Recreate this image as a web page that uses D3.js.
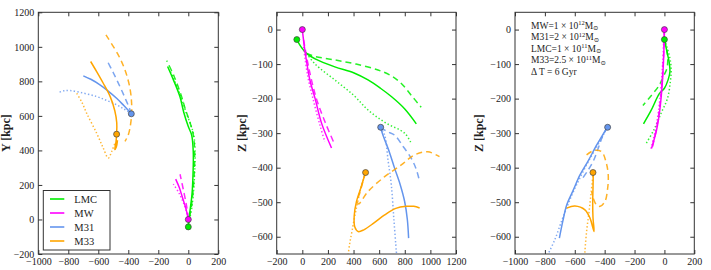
<!DOCTYPE html>
<html>
<head>
<meta charset="utf-8">
<script src="https://cdnjs.cloudflare.com/ajax/libs/d3/7.8.5/d3.min.js"></script>
<style>
  body { margin: 0; background: #fff; }
  svg { display: block; font-family: "Liberation Serif", "DejaVu Serif", serif; }
</style>
</head>
<body>
<div id="chart"></div>
<script>
// galaxies, in legend order
const galaxies = ["LMC", "MW", "M31", "M33"];
const colors = ["#00ee00", "#ff00ff", "#6495ed", "#ffa500"];

// present-day positions (kpc)
const nowX = [0, 0, -380, -478];
const nowY = [-43, 0, 612, 494];
const nowZ = [-29, 0, -283, -414];

// tracks: [solid, dashed, dotted]  --- panel 1 : X vs Y
const lmcXY = [
  [[0,-42],[2,-10],[11,48],[25,150],[31,250],[33,394],[22,490],[0,538],[-30,620],[-56,712],[-100,810],[-138,886]],
  [[0,-42],[5,0],[18,60],[35,200],[42,394],[33,490],[12,560],[-20,640],[-45,712],[-95,830],[-144,920]],
  [[0,-42],[8,0],[22,60],[38,200],[45,400],[36,490],[18,545],[-15,620],[-45,700],[-85,790],[-125,870]]
];
const mwXY = [
  [[0,0],[-15,60],[-40,130],[-60,185],[-84,234]],
  [[0,5],[-10,70],[-30,160],[-55,262]],
  [[0,10],[-25,80],[-60,150],[-100,205]]
];
const m31XY = [
  [[-378,612],[-430,660],[-478,702],[-540,748],[-589,780],[-650,812],[-700,832]],
  [[-378,612],[-400,660],[-430,720],[-456,770],[-500,850],[-544,924]],
  [[-378,612],[-430,640],[-478,664],[-545,690],[-611,712],[-700,732],[-789,747],[-830,745],[-867,735]]
];
const m33XY = [
  [[-651,915],[-610,855],[-567,789],[-520,710],[-490,630],[-477,560],[-478,494],[-482,450],[-490,405],[-480,420],[-472,460]],
  [[-549,1069],[-467,953],[-422,866],[-389,760],[-378,673],[-378,606],[-389,529],[-400,490],[-422,452]],
  [[-744,731],[-710,680],[-678,616],[-611,500],[-570,420],[-533,356],[-510,395],[-490,440]]
];

// panel 2 : Y vs Z
const lmcYZ = [
  [[-43,-29],[-10,-50],[33,-69],[100,-85],[254,-108],[400,-125],[513,-146],[610,-170],[695,-194],[800,-230],[890,-273]],
  [[33,-69],[100,-78],[254,-88],[420,-100],[591,-117],[700,-135],[773,-156],[850,-190],[928,-225]],
  [[33,-69],[100,-100],[254,-146],[400,-190],[513,-233],[650,-270],[799,-300],[851,-330]]
];
const mwYZ = [
  [[0,0],[20,-60],[59,-146],[100,-200],[150,-271],[228,-343]],
  [[10,-30],[50,-110],[110,-200],[180,-270],[254,-334]],
  [[10,-50],[40,-130],[90,-210],[140,-280],[176,-325]]
];
const m31YZ = [
  [[610,-283],[630,-306],[680,-355],[721,-402],[765,-450],[799,-498],[820,-550],[830,-604]],
  [[610,-283],[660,-295],[721,-306],[790,-340],[851,-373],[890,-405],[916,-440]],
  [[610,-283],[643,-306],[670,-380],[695,-450],[715,-550],[734,-642],[738,-660]]
];
const m33YZ = [
  [[493,-414],[460,-455],[423,-498],[405,-540],[410,-572],[436,-585],[480,-580],[560,-560],[643,-537],[730,-518],[812,-512],[870,-512],[916,-517]],
  [[493,-414],[455,-465],[430,-500],[440,-505],[513,-469],[643,-426],[773,-392],[876,-363],[980,-354],[1071,-368]],
  [[493,-414],[450,-470],[415,-530],[390,-580],[370,-620],[355,-660]]
];

// panel 3 : X vs Z
const lmcXZ = [
  [[0,-29],[15,-60],[32,-95],[37,-122],[25,-145],[0,-170],[-33,-185],[-90,-235],[-140,-273]],
  [[0,-29],[20,-70],[18,-110],[-8,-137],[-40,-165],[-86,-190],[-144,-220]],
  [[0,-29],[30,-70],[45,-110],[40,-150],[20,-200],[-20,-240],[-70,-290],[-125,-332]]
];
const mwXZ = [
  [[0,0],[-5,-80],[-15,-160],[-30,-230],[-52,-290],[-86,-344]],
  [[0,-5],[-8,-100],[-25,-200],[-50,-280],[-80,-340]],
  [[-3,-10],[-12,-100],[-30,-200],[-55,-280],[-90,-345]]
];
const m31XZ = [
  [[-382,-283],[-420,-310],[-454,-335],[-510,-380],[-565,-421],[-610,-465],[-654,-508],[-680,-555],[-703,-604]],
  [[-382,-283],[-410,-305],[-440,-340],[-475,-380],[-515,-410],[-555,-435]],
  [[-382,-283],[-440,-330],[-500,-375],[-560,-425],[-620,-480],[-680,-545],[-735,-610],[-790,-660]]
];
const m33XZ = [
  [[-476,-414],[-478,-460],[-480,-500],[-478,-545],[-471,-585],[-498,-546],[-532,-522],[-599,-511],[-654,-517]],
  [[-521,-363],[-470,-350],[-420,-354],[-390,-385],[-376,-421],[-380,-460],[-398,-498],[-430,-512],[-454,-508],[-475,-490],[-487,-469]],
  [[-476,-414],[-490,-470],[-505,-530],[-521,-585],[-532,-642],[-535,-660]]
];

// ticks
const ticksX1 = [-1000, -800, -600, -400, -200, 0, 200];
const ticksY1 = [-200, 0, 200, 400, 600, 800, 1000, 1200];
const ticksX2 = [-200, 0, 200, 400, 600, 800, 1000, 1200];
const ticksZ = [-600, -500, -400, -300, -200, -100, 0];

const massLines = [
  ["MW=1 \u00d7 10", "12", "M"],
  ["M31=2 \u00d7 10", "12", "M"],
  ["LMC=1 \u00d7 10", "11", "M"],
  ["M33=2.5 \u00d7 10", "11", "M"]
];

const W = 711, H = 270;
const plotTop = 12.3, plotBottom = 254;
const styles = [null, "6,4", "1.4,2.2"];
const opac = [1, 0.85, 0.8];

const svg = d3.select("#chart").append("svg")
  .attr("width", W).attr("height", H);

const panels = [
  { x0: 38.3, x1: 218.3, xd: [-1000, 200], yd: [-200, 1200], xt: ticksX1, yt: ticksY1,
    tracks: [lmcXY, mwXY, m31XY, m33XY], px: nowX, py: nowY, ylab: "Y [kpc]", ylx: 10 },
  { x0: 276.7, x1: 456, xd: [-200, 1200], yd: [-650, 50], xt: ticksX2, yt: ticksZ,
    tracks: [lmcYZ, mwYZ, m31YZ, m33YZ], px: nowY, py: nowZ, ylab: "Z [kpc]", ylx: 246 },
  { x0: 515, x1: 694.3, xd: [-1000, 200], yd: [-650, 50], xt: ticksX1, yt: ticksZ,
    tracks: [lmcXZ, mwXZ, m31XZ, m33XZ], px: nowX, py: nowZ, ylab: "Z [kpc]", ylx: 483 }
];

panels.forEach((p, i) => {
  const x = d3.scaleLinear().domain(p.xd).range([p.x0, p.x1]);
  const y = d3.scaleLinear().domain(p.yd).range([plotBottom, plotTop]);
  const g = svg.append("g");

  g.append("clipPath").attr("id", "clip" + i)
    .append("rect").attr("x", p.x0).attr("y", plotTop)
    .attr("width", p.x1 - p.x0).attr("height", plotBottom - plotTop);

  // axes, ticks pointing inward on all four sides
  const fmt = d3.format("d");
  const axes = [
    g.append("g").attr("transform", `translate(0,${plotBottom})`)
      .call(d3.axisBottom(x).tickValues(p.xt).tickSize(-4).tickPadding(3.5).tickFormat(fmt)),
    g.append("g").attr("transform", `translate(0,${plotTop})`)
      .call(d3.axisTop(x).tickValues(p.xt).tickSize(-4).tickFormat("")),
    g.append("g").attr("transform", `translate(${p.x0},0)`)
      .call(d3.axisLeft(y).tickValues(p.yt).tickSize(-4).tickPadding(4).tickFormat(fmt)),
    g.append("g").attr("transform", `translate(${p.x1},0)`)
      .call(d3.axisRight(y).tickValues(p.yt).tickSize(-4).tickFormat(""))
  ];
  axes.forEach(a => {
    a.attr("font-family", null);
    a.select(".domain").remove();
    a.selectAll("line").attr("stroke", "#333");
    a.selectAll("text").attr("font-size", 10).attr("fill", "#222");
  });

  const line = d3.line().x(d => x(d[0])).y(d => y(d[1])).curve(d3.curveCatmullRom);
  const plot = g.append("g").attr("clip-path", `url(#clip${i})`);

  p.tracks.forEach((tr, k) => {
    tr.forEach((pts, s) => {
      plot.append("path")
        .attr("d", line(pts))
        .attr("fill", "none")
        .attr("stroke", colors[k])
        .attr("stroke-width", 1.5)
        .attr("stroke-opacity", opac[s])
        .attr("stroke-dasharray", styles[s]);
    });
  });

  galaxies.forEach((name, k) => {
    plot.append("circle")
      .attr("cx", x(p.px[k])).attr("cy", y(p.py[k])).attr("r", 3)
      .attr("fill", colors[k]).attr("stroke", "#444").attr("stroke-width", 0.7);
  });

  g.append("rect")
    .attr("x", p.x0).attr("y", plotTop)
    .attr("width", p.x1 - p.x0).attr("height", plotBottom - plotTop)
    .attr("fill", "none").attr("stroke", "#333").attr("stroke-width", 1);

  g.append("text")
    .attr("transform", `translate(${p.ylx},${(plotTop + plotBottom) / 2}) rotate(-90)`)
    .attr("text-anchor", "middle").attr("font-size", 12).attr("font-weight", "bold")
    .attr("fill", "#222").text(p.ylab);

  // x label sits mostly below the picture edge, as in the original
  g.append("text")
    .attr("x", (p.x0 + p.x1) / 2).attr("y", 278.5)
    .attr("text-anchor", "middle").attr("font-size", 12).attr("font-weight", "bold")
    .attr("fill", "#222").text("X [kpc]");
});

// legend in panel 1
const leg = svg.append("g");
leg.append("rect").attr("x", 43.3).attr("y", 190.5).attr("width", 66.7).attr("height", 59.5)
  .attr("fill", "#fff").attr("stroke", "#333").attr("stroke-width", 1);
galaxies.forEach((name, k) => {
  const yy = 199 + k * 14;
  leg.append("line").attr("x1", 50).attr("x2", 64.3).attr("y1", yy).attr("y2", yy)
    .attr("stroke", colors[k]).attr("stroke-width", 2).attr("stroke-opacity", 0.8);
  leg.append("text").attr("x", 74.3).attr("y", yy + 3.5).attr("font-size", 10.5)
    .attr("fill", "#222").text(name);
});

// mass annotation in panel 3
const note = svg.append("g").attr("font-size", 9.5).attr("fill", "#222");
massLines.forEach((m, j) => {
  const t = note.append("text").attr("x", 531).attr("y", 28.5 + j * 11.6);
  t.append("tspan").text(m[0]);
  t.append("tspan").attr("font-size", 6.5).attr("dy", -3.5).text(m[1]);
  t.append("tspan").attr("dy", 3.5).text(m[2]);
  t.append("tspan").attr("font-size", 6.5).attr("dy", 1.5).text("\u2299");
});
note.append("text").attr("x", 531).attr("y", 28.5 + 4 * 11.6).text("\u0394 T = 6 Gyr");
</script>
</body>
</html>
